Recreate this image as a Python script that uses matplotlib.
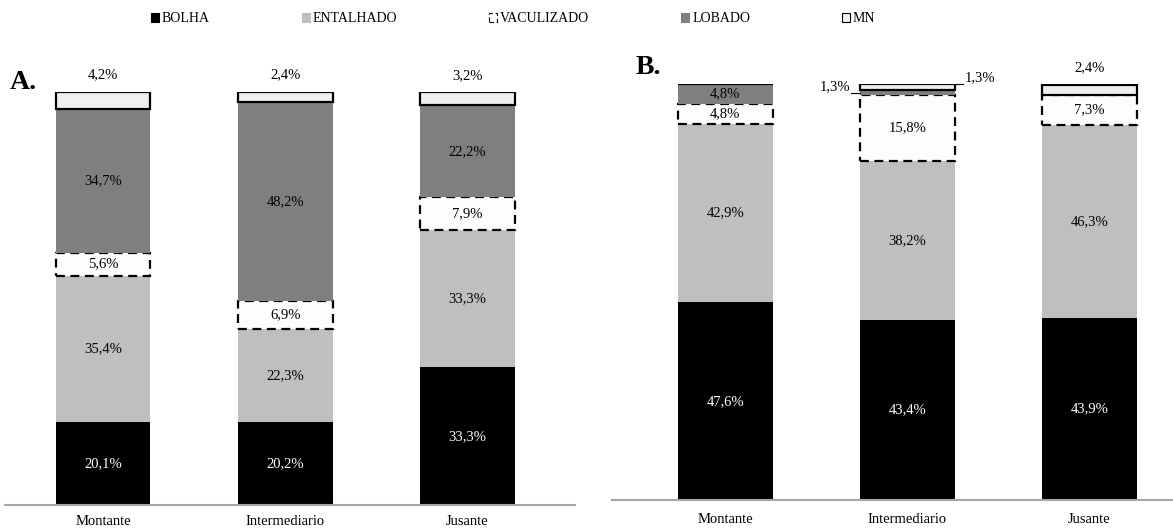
import matplotlib.pyplot as plt
from matplotlib.patches import Patch
import numpy as np

plt.rcParams['font.family'] = ['Liberation Serif', 'DejaVu Serif']

cats = ['Montante', 'Intermediario', 'Jusante']
series = ['BOLHA', 'ENTALHADO', 'VACULIZADO', 'LOBADO', 'MN']

# panel A
a_bolha = [20.1, 20.2, 33.3]
a_entalhado = [35.4, 22.3, 33.3]
a_vaculizado = [5.6, 6.9, 7.9]
a_lobado = [34.7, 48.2, 22.2]
a_mn = [4.2, 2.4, 3.2]

# panel B
b_bolha = [47.6, 43.4, 43.9]
b_entalhado = [42.9, 38.2, 46.3]
b_vaculizado = [4.8, 15.8, 7.3]
b_lobado = [4.8, 1.3, 0.0]
b_mn = [0.0, 1.3, 2.4]

colors = ['#000000', '#bfbfbf', '#fdfdfd', '#7f7f7f', '#efefef']
edges = ['none', 'none', 'black', 'none', 'black']
styles = ['solid', 'solid', (0, (4, 2.5)), 'solid', 'solid']
txtcol = ['white', 'black', 'black', 'black', 'black']


def fmt(v):
    return f'{v:.1f}'.replace('.', ',') + '%'


def draw(ax, data, pad):
    x = np.arange(len(cats))
    w = 0.52
    bottom = np.zeros(len(cats))
    for i, vals in enumerate(data):
        vals = np.array(vals)
        ax.bar(x, vals, w, bottom=bottom, color=colors[i], edgecolor=edges[i],
               linestyle=styles[i], linewidth=1.6 if edges[i] != 'none' else 0)
        for j, v in enumerate(vals):
            if v <= 0:
                continue
            mid = bottom[j] + v / 2
            top = bottom[j] + v
            if series[i] == 'MN':
                if v >= 2:
                    ax.text(x[j], top + 2.5, fmt(v), ha='center', va='bottom',
                            fontsize=10.5, clip_on=False)
                else:
                    # small value: label to the right with a short leader
                    ax.plot([x[j] + w / 2, x[j] + w / 2 + 0.045], [top, top],
                            color='black', lw=0.8, clip_on=False)
                    ax.text(x[j] + w / 2 + 0.055, top + 1.7, fmt(v), ha='left',
                            va='center', fontsize=10.5, clip_on=False)
            elif v < 2:
                # small value: label to the left with a short leader
                ax.plot([x[j] - w / 2 - 0.05, x[j] - w / 2], [mid, mid],
                        color='black', lw=0.8, clip_on=False)
                ax.text(x[j] - w / 2 - 0.05, mid + 0.6, fmt(v), ha='right',
                        va='baseline', fontsize=10.5, clip_on=False)
            else:
                ax.text(x[j], mid, fmt(v), ha='center', va='center',
                        fontsize=10.5, color=txtcol[i])
        bottom += vals
    ax.set_ylim(0, 100)
    ax.set_yticks([])
    ax.set_xticks(x)
    ax.set_xticklabels(cats, fontsize=10.5)
    ax.tick_params(axis='x', length=0, pad=pad)
    for s in ['top', 'right', 'left']:
        ax.spines[s].set_visible(False)
    ax.spines['bottom'].set_color('#a6a6a6')
    ax.spines['bottom'].set_linewidth(1.5)


fig = plt.figure(figsize=(11.73, 5.31), dpi=100)
axA = fig.add_axes([0.004, 0.049, 0.486, 0.778])
axA.set_xlim(-0.54, 2.59)
draw(axA, [a_bolha, a_entalhado, a_vaculizado, a_lobado, a_mn], 7.5)

axB = fig.add_axes([0.522, 0.058, 0.478, 0.783])
axB.set_xlim(-0.62, 2.46)
draw(axB, [b_bolha, b_entalhado, b_vaculizado, b_lobado, b_mn], 9.5)

fig.text(0.008, 0.845, 'A.', fontsize=20, fontweight='bold', va='center')
fig.text(0.542, 0.873, 'B.', fontsize=20, fontweight='bold', va='center')

handles = [Patch(facecolor=colors[i], edgecolor=edges[i] if edges[i] != 'none' else colors[i],
                 linestyle=styles[i] if i == 2 else 'solid', linewidth=0.8)
           for i in range(len(series))]
fig.legend(handles, series, loc='upper left', bbox_to_anchor=(0.118, 1.0),
           ncol=5, frameon=False, fontsize=10, handlelength=0.6,
           handleheight=0.6, handletextpad=0.2, columnspacing=6.6)

fig.savefig('out.png', dpi=100)
